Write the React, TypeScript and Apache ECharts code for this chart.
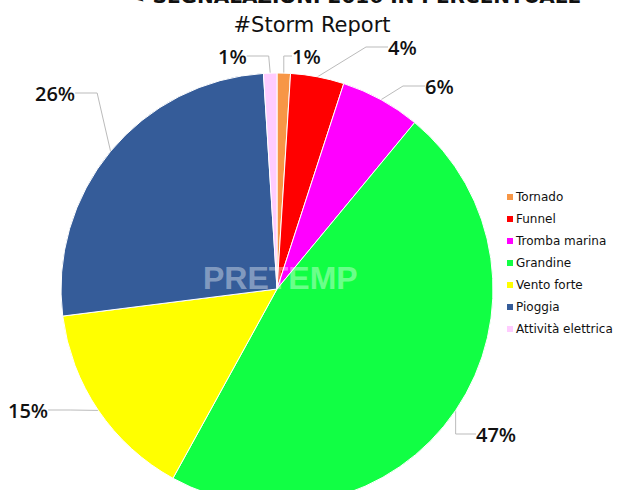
import React, { useEffect, useRef } from "react";
import * as echarts from "echarts";

const categories = ["Tornado", "Funnel", "Tromba marina", "Grandine", "Vento forte", "Pioggia", "Attività elettrica"];
const values = [1, 4, 6, 47, 15, 26, 1];
const colors = ["#F79646", "#FF0000", "#FF00FF", "#11FF44", "#FFFF00", "#355C99", "#FFCCFF"];

const labelPos: [number, number][] = [
  [292, 56],
  [388, 47],
  [425, 86],
  [476, 434],
  [8, 410],
  [35, 93],
  [218, 56],
];

export default function App() {
  const ref = useRef<HTMLDivElement>(null);
  useEffect(() => {
    if (!ref.current) return;
    const chart = echarts.init(ref.current, null, { renderer: "svg" });
    chart.setOption({
      animation: false,
      backgroundColor: "#ffffff",
      color: colors,
      title: [
        {
          text: "✎ SEGNALAZIONI 2016 IN PERCENTUALE",
          left: 350,
          textAlign: "center",
          top: -19,
          textStyle: { fontFamily: "DejaVu Sans", fontSize: 20, fontWeight: "bold", color: "#111" },
        },
        {
          text: "#Storm Report",
          left: 307,
          textAlign: "center",
          top: 9,
          textStyle: { fontFamily: "DejaVu Sans", fontSize: 21, fontWeight: "normal", color: "#111" },
        },
      ],
      legend: {
        orient: "vertical",
        left: 500,
        top: 185,
        icon: "rect",
        itemWidth: 8,
        itemHeight: 8,
        itemGap: 8,
        textStyle: { fontFamily: "DejaVu Sans", fontSize: 12, color: "#111", lineHeight: 14, padding: [0, 0, 0, -3] },
        data: categories,
      },
      graphic: [
        {
          type: "text",
          left: 203,
          top: 262,
          z: 100,
          style: {
            text: "PRETEMP",
            fontFamily: "Liberation Sans",
            fontSize: 32,
            fontWeight: "bold",
            fill: "rgba(255,255,255,0.4)",
          },
        },
      ],
      series: [
        {
          type: "pie",
          center: [277, 289],
          radius: 216,
          startAngle: 90,
          clockwise: true,
          itemStyle: { borderColor: "#ffffff", borderWidth: 1 },
          label: {
            formatter: "{c}%",
            fontFamily: "Open Sans",
            fontSize: 20,
            fontWeight: 600,
            color: "#111",
          },
          labelLine: { length: 18, length2: 22, lineStyle: { color: "#bbbbbb", width: 1 } },
          labelLayout: (p: any) => ({
            x: labelPos[p.dataIndex][0],
            y: labelPos[p.dataIndex][1],
            align: "left",
            verticalAlign: "middle",
          }),
          emphasis: { disabled: true },
          data: categories.map((c, i) => ({ name: c, value: values[i] })),
        },
      ],
    });
    return () => chart.dispose();
  }, []);
  return <div ref={ref} style={{ position: "fixed", left: 0, top: 0, width: 618, height: 490 }} />;
}
